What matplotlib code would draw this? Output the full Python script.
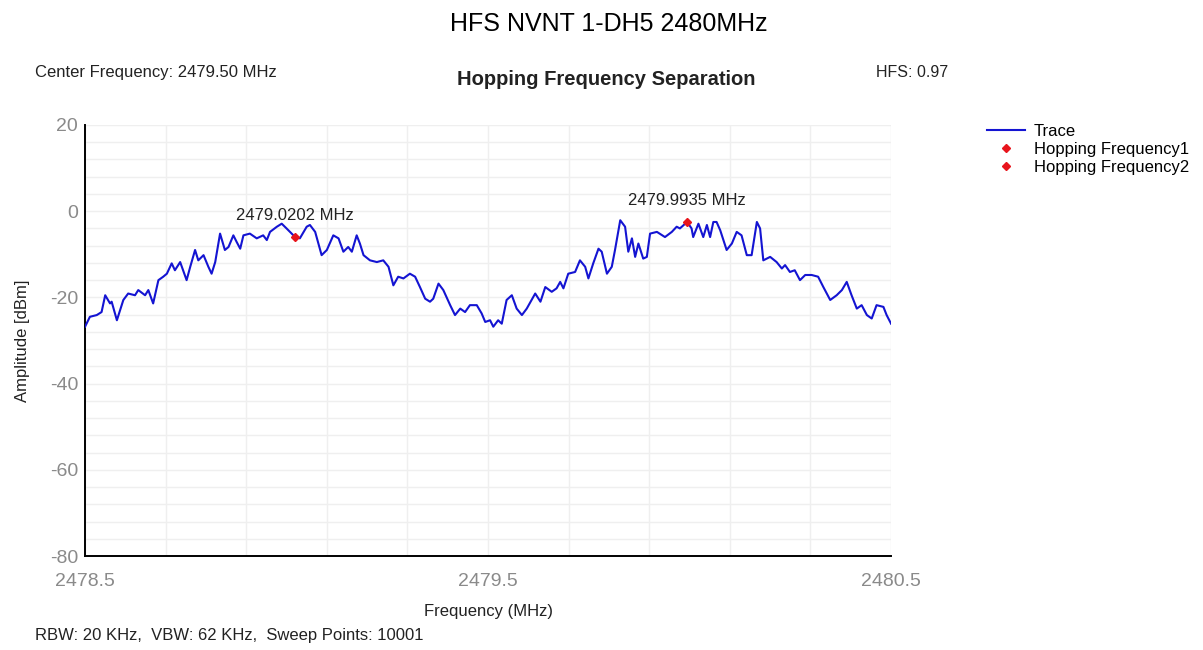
import matplotlib
matplotlib.use('Agg')
import matplotlib.pyplot as plt
from matplotlib.ticker import MultipleLocator

plt.rcParams['font.family'] = ['Liberation Sans', 'DejaVu Sans']
plt.rcParams['axes.unicode_minus'] = False

# --- Data ---
freq_mhz = [
    2478.500, 2478.512, 2478.529, 2478.541, 2478.550, 2478.562, 2478.566, 2478.579,
    2478.595, 2478.607, 2478.624, 2478.632, 2478.649, 2478.657, 2478.669, 2478.682,
    2478.694, 2478.703, 2478.715, 2478.723, 2478.736, 2478.752, 2478.761, 2478.773,
    2478.781, 2478.794, 2478.806, 2478.814, 2478.823, 2478.835, 2478.847, 2478.856,
    2478.868, 2478.876, 2478.885, 2478.893, 2478.909, 2478.926, 2478.942, 2478.951,
    2478.959, 2478.976, 2478.988, 2479.000, 2479.017, 2479.033, 2479.050, 2479.058,
    2479.071, 2479.087, 2479.100, 2479.116, 2479.129, 2479.141, 2479.153, 2479.162,
    2479.174, 2479.182, 2479.191, 2479.207, 2479.224, 2479.240, 2479.253, 2479.265,
    2479.277, 2479.290, 2479.306, 2479.319, 2479.331, 2479.344, 2479.356, 2479.364,
    2479.377, 2479.389, 2479.406, 2479.418, 2479.431, 2479.443, 2479.455, 2479.472,
    2479.484, 2479.493, 2479.505, 2479.513, 2479.525, 2479.534, 2479.546, 2479.559,
    2479.571, 2479.584, 2479.596, 2479.617, 2479.630, 2479.642, 2479.658, 2479.670,
    2479.679, 2479.687, 2479.699, 2479.716, 2479.728, 2479.741, 2479.749, 2479.761,
    2479.774, 2479.782, 2479.795, 2479.807, 2479.815, 2479.828, 2479.840, 2479.848,
    2479.857, 2479.865, 2479.873, 2479.885, 2479.894, 2479.902, 2479.919, 2479.939,
    2479.956, 2479.968, 2479.976, 2479.994, 2480.005, 2480.009, 2480.022, 2480.034,
    2480.043, 2480.051, 2480.059, 2480.067, 2480.076, 2480.092, 2480.105, 2480.117,
    2480.129, 2480.142, 2480.154, 2480.167, 2480.175, 2480.183, 2480.200, 2480.216,
    2480.229, 2480.237, 2480.249, 2480.261, 2480.274, 2480.287, 2480.303, 2480.319,
    2480.332, 2480.349, 2480.365, 2480.378, 2480.390, 2480.402, 2480.415, 2480.427,
    2480.440, 2480.452, 2480.464, 2480.481, 2480.489, 2480.500,
]
amp_dbm = [
    -26.8, -24.5, -24.1, -23.4, -19.5, -21.4, -21.0, -25.3,
    -20.6, -19.1, -19.5, -18.3, -19.5, -18.3, -21.4, -16.0,
    -15.2, -14.5, -12.1, -13.7, -11.8, -16.0, -12.9, -9.0,
    -11.4, -10.2, -12.9, -14.5, -11.8, -5.2, -9.0, -8.3,
    -5.6, -7.1, -8.7, -5.6, -5.2, -6.3, -5.6, -6.7,
    -4.8, -3.6, -2.9, -4.0, -5.6, -6.3, -3.6, -3.2,
    -4.8, -10.2, -9.0, -5.6, -6.3, -9.4, -8.3, -9.4,
    -5.6, -7.5, -10.2, -11.4, -11.8, -11.4, -12.9, -17.2,
    -15.2, -15.6, -14.5, -15.2, -17.6, -20.3, -21.0, -20.3,
    -16.8, -18.3, -21.8, -24.1, -22.6, -23.4, -21.8, -21.8,
    -23.7, -25.7, -25.3, -26.8, -25.3, -26.1, -20.6, -19.5,
    -22.6, -24.1, -22.6, -19.1, -21.0, -17.6, -18.7, -17.9,
    -16.4, -17.9, -14.5, -14.1, -11.4, -12.9, -15.6, -12.1,
    -8.7, -9.4, -14.5, -12.9, -9.0, -2.1, -3.6, -9.4,
    -6.3, -10.6, -7.5, -11.0, -10.6, -5.2, -4.8, -6.0,
    -4.8, -3.6, -4.0, -2.5, -4.0, -6.0, -2.9, -6.0,
    -3.2, -6.0, -2.5, -2.5, -4.4, -9.0, -7.5, -4.8,
    -5.6, -10.2, -10.2, -2.5, -4.0, -11.4, -10.6, -11.8,
    -13.3, -12.5, -14.1, -13.7, -16.0, -14.8, -14.8, -15.2,
    -17.6, -20.6, -19.5, -18.3, -16.4, -19.5, -22.6, -21.8,
    -24.1, -24.9, -21.8, -22.2, -24.1, -26.1,
]

hop_freqs = [2479.0202, 2479.9935]
hop_amps = [-5.9, -2.5]
hop_labels = ['Hopping Frequency1', 'Hopping Frequency2']

center_freq = 2479.50
hfs_value = 0.97
x_ticks = [2478.5, 2479.5, 2480.5]

TRACE_COLOR = '#1414d2'
TICK_COLOR = '#8a8a8a'
GRID_COLOR = '#efefef'
TEXT_COLOR = '#222222'

fig = plt.figure(figsize=(12.03, 6.5), dpi=100)
fig.patch.set_facecolor('#ffffff')
ax = fig.add_axes([0.0707, 0.1446, 0.6700, 0.6631])

ax.plot(freq_mhz, amp_dbm, color=TRACE_COLOR, linewidth=1.5, label='Trace', zorder=3)
for f, a, lab in zip(hop_freqs, hop_amps, hop_labels):
    ax.plot([f], [a], linestyle='none', marker='D', markersize=4.5, color='#e8141c',
            label=lab, zorder=4)
    ax.annotate(f'{f:.4f} MHz', xy=(f, a), xytext=(0, 10), textcoords='offset points',
                ha='center', va='bottom', fontsize=12, color=TEXT_COLOR)

ax.set_xlim(2478.5, 2480.5)
ax.set_ylim(-80, 20)
ax.set_xticks(x_ticks)
ax.set_xticklabels([f'{t:.1f}' for t in x_ticks])
ax.yaxis.set_major_locator(MultipleLocator(20))
ax.xaxis.set_minor_locator(MultipleLocator(0.2, offset=0.1))
ax.yaxis.set_minor_locator(MultipleLocator(4))
ax.grid(which='both', color=GRID_COLOR, linewidth=1.0)
ax.set_axisbelow(True)
ax.tick_params(which='both', length=0, colors=TICK_COLOR, labelsize=14)
ax.tick_params(axis='x', pad=12)
ax.tick_params(axis='y', pad=5)

for side in ['top', 'right']:
    ax.spines[side].set_visible(False)
for side in ['left', 'bottom']:
    ax.spines[side].set_color('#000000')
    ax.spines[side].set_linewidth(1.4)

ax.set_xlabel('Frequency (MHz)', fontsize=12, color=TEXT_COLOR, labelpad=10)
ax.set_ylabel('Amplitude [dBm]', fontsize=12, color=TEXT_COLOR, labelpad=14)

# --- Header / footer text ---
fig.text(0.506, 0.963, 'HFS NVNT 1-DH5 2480MHz', ha='center', va='center', fontsize=18)
fig.text(0.029, 0.889, f'Center Frequency: {center_freq:.2f} MHz', ha='left', va='center',
         fontsize=12, color=TEXT_COLOR)
fig.text(0.504, 0.877, 'Hopping Frequency Separation', ha='center', va='center',
         fontsize=14.5, fontweight='bold', color=TEXT_COLOR)
fig.text(0.728, 0.889, f'HFS: {hfs_value:.2f}', ha='left', va='center', fontsize=11.5,
         color=TEXT_COLOR)
fig.text(0.029, 0.022, 'RBW: 20 KHz,  VBW: 62 KHz,  Sweep Points: 10001', ha='left',
         va='center', fontsize=12, color=TEXT_COLOR)

fig.legend(loc='upper left', bbox_to_anchor=(0.815, 0.82), frameon=False, fontsize=12,
           handlelength=2.3, handletextpad=0.5, labelspacing=0.2, borderaxespad=0)

fig.savefig('out.png', dpi=100)
